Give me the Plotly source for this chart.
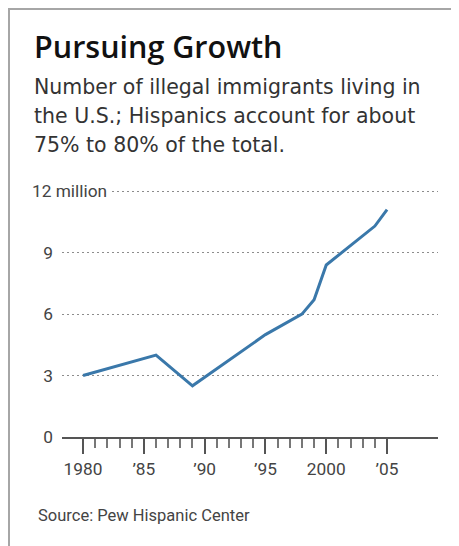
import plotly.graph_objects as go

# ---- data ----
years = [1980, 1986, 1989, 1995, 1998, 1999, 2000, 2004, 2005]
immigrants_millions = [3.0, 4.0, 2.5, 5.0, 6.0, 6.7, 8.4, 10.3, 11.1]

x_tick_vals = [1980, 1985, 1990, 1995, 2000, 2005]
x_tick_text = ["1980", "\u201985", "\u201990", "\u201995", "2000", "\u201905"]
x_minor_vals = [y for y in range(1981, 2005) if y % 5 != 0]

y_tick_vals = [0, 3, 6, 9, 12]
y_tick_text = ["0", "3", "6", "9", ""]
top_label = "12 million"

title = "Pursuing Growth"
subtitle_lines = [
    "Number of illegal immigrants living in",
    "the U.S.; Hispanics account for about",
    "75% to 80% of the total.",
]
source = "Source: Pew Hispanic Center"

# ---- layout geometry ----
# The page body has an 8px margin, so screen coords = figure coords + 8.
OFF = 8
W, H = 459 - OFF, 546 - OFF
L = 62 - OFF
R = W - (438 - OFF)
T = 181 - OFF
B = H - (437 - OFF)
PW, PH = W - L - R, H - T - B


def px(xs):
    """screen x pixel -> paper x"""
    return (xs - OFF - L) / PW


def py(ys):
    """screen y pixel -> paper y"""
    return (H - B - (ys - OFF)) / PH


fig = go.Figure()
fig.add_trace(go.Scatter(
    x=years, y=immigrants_millions, mode="lines",
    line=dict(color="#3a78aa", width=3),
    hoverinfo="skip", showlegend=False,
))

tick_font = dict(family="Roboto", size=17.3, color="#444444")

fig.update_layout(
    width=W, height=H, autosize=False,
    margin=dict(l=L, r=R, t=T, b=B, pad=0),
    paper_bgcolor="white", plot_bgcolor="white",
    showlegend=False,
    xaxis=dict(
        range=[1978.27, 2009.19],
        tickmode="array", tickvals=x_tick_vals, ticktext=x_tick_text,
        ticks="outside", ticklen=15, tickwidth=1.5, tickcolor="#555555",
        showline=True, linecolor="#555555", linewidth=2,
        showgrid=False, zeroline=False,
        tickfont=tick_font,
        minor=dict(tickmode="array", tickvals=x_minor_vals, ticks="outside",
                   ticklen=9, tickwidth=1.5, tickcolor="#777777", showgrid=False),
    ),
    yaxis=dict(
        range=[0, 12.5],
        tickmode="array", tickvals=y_tick_vals, ticktext=y_tick_text,
        ticks="", showline=False, zeroline=False,
        showgrid=True, gridcolor="#8c8c8c", gridwidth=1, griddash="2px,3px",
        tickfont=tick_font, ticklabelstandoff=8,
    ),
)

annotations = [
    dict(text=top_label, x=px(28), y=12, xref="paper", yref="y",
         xanchor="left", yanchor="middle", showarrow=False,
         font=tick_font, bgcolor="white", borderpad=3),
    dict(text=title, x=px(31.5), y=py(45.5), xref="paper", yref="paper",
         xanchor="left", yanchor="middle", showarrow=False,
         font=dict(family="Open Sans", size=30.5, color="#111111", weight=600)),
    dict(text=source, x=px(36), y=py(515), xref="paper", yref="paper",
         xanchor="left", yanchor="middle", showarrow=False,
         font=dict(family="Roboto", size=16.5, color="#444444")),
]
for line, base in zip(subtitle_lines, [94, 123, 152]):
    annotations.append(dict(
        text=line, x=px(32), y=py(base - 7), xref="paper", yref="paper",
        xanchor="left", yanchor="middle", showarrow=False,
        font=dict(family="DejaVu Sans", size=20.5, color="#333333")))
fig.update_layout(annotations=annotations)

# frame lines (top and left)
fig.add_shape(type="line", xref="paper", yref="paper",
              x0=px(OFF), x1=px(459), y0=py(OFF + 1), y1=py(OFF + 1),
              line=dict(color="#a6a6a6", width=2))
fig.add_shape(type="line", xref="paper", yref="paper",
              x0=px(OFF + 1), x1=px(OFF + 1), y0=py(OFF), y1=py(546),
              line=dict(color="#a6a6a6", width=2))

fig.write_html("out.html")
